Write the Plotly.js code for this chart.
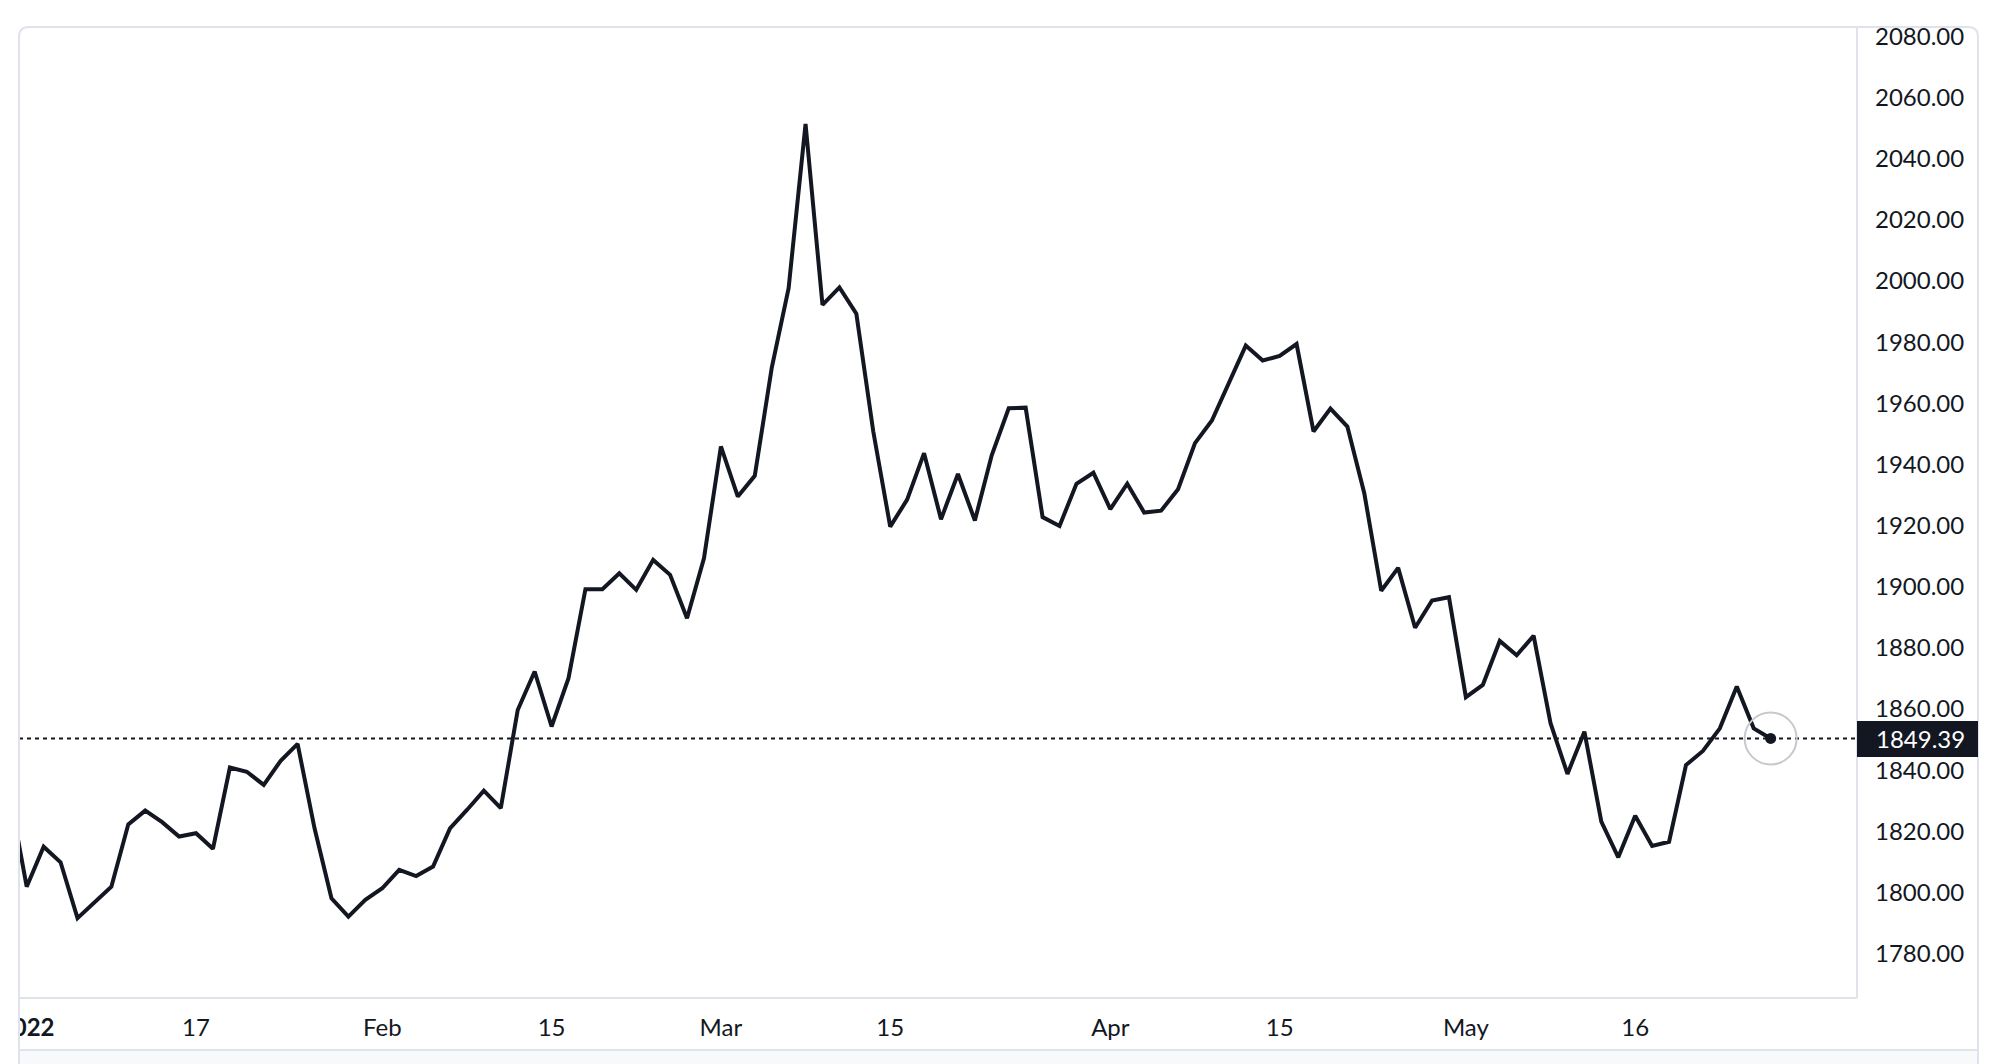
<!DOCTYPE html>
<html>
<head>
<meta charset="utf-8">
<script src="https://cdn.plot.ly/plotly-3.0.1.min.js"></script>
<style>
  html, body { margin: 0; padding: 0; background: #ffffff; }
  #chart { width: 2006px; height: 1064px; }
</style>
</head>
<body>
<div id="chart"></div>
<script>
// ---- data ----
const dates = [
  "2021-12-31",
  "2022-01-03","2022-01-04","2022-01-05","2022-01-06","2022-01-07",
  "2022-01-10","2022-01-11","2022-01-12","2022-01-13","2022-01-14",
  "2022-01-17","2022-01-18","2022-01-19","2022-01-20","2022-01-21",
  "2022-01-24","2022-01-25","2022-01-26","2022-01-27","2022-01-28",
  "2022-01-31",
  "2022-02-01","2022-02-02","2022-02-03","2022-02-04",
  "2022-02-07","2022-02-08","2022-02-09","2022-02-10","2022-02-11",
  "2022-02-14","2022-02-15","2022-02-16","2022-02-17","2022-02-18",
  "2022-02-21","2022-02-22","2022-02-23","2022-02-24","2022-02-25",
  "2022-02-28",
  "2022-03-01","2022-03-02","2022-03-03","2022-03-04",
  "2022-03-07","2022-03-08","2022-03-09","2022-03-10","2022-03-11",
  "2022-03-14","2022-03-15","2022-03-16","2022-03-17","2022-03-18",
  "2022-03-21","2022-03-22","2022-03-23","2022-03-24","2022-03-25",
  "2022-03-28","2022-03-29","2022-03-30","2022-03-31",
  "2022-04-01",
  "2022-04-04","2022-04-05","2022-04-06","2022-04-07","2022-04-08",
  "2022-04-11","2022-04-12","2022-04-13","2022-04-14","2022-04-15",
  "2022-04-18","2022-04-19","2022-04-20","2022-04-21","2022-04-22",
  "2022-04-25","2022-04-26","2022-04-27","2022-04-28","2022-04-29",
  "2022-05-02","2022-05-03","2022-05-04","2022-05-05","2022-05-06",
  "2022-05-09","2022-05-10","2022-05-11","2022-05-12","2022-05-13",
  "2022-05-16","2022-05-17","2022-05-18","2022-05-19","2022-05-20",
  "2022-05-23","2022-05-24","2022-05-25","2022-05-26"
];
const closes = [
  1831.0,
  1800.9, 1814.0, 1808.9, 1790.6, 1795.8,
  1800.9, 1821.3, 1825.8, 1822.0, 1817.3,
  1818.4, 1813.3, 1839.9, 1838.5, 1834.2,
  1842.1, 1847.6, 1820.0, 1797.1, 1791.1,
  1796.6,
  1800.4, 1806.4, 1804.4, 1807.5,
  1820.0, 1826.0, 1832.3, 1826.6, 1858.7,
  1871.3, 1853.3, 1869.1, 1898.2, 1898.2,
  1903.4, 1898.0, 1907.8, 1902.9, 1888.7,
  1908.3,
  1944.9, 1928.5, 1935.3, 1970.5,
  1996.7, 2050.4, 1991.2, 1996.9, 1988.3,
  1949.8, 1918.7, 1927.5, 1942.7, 1921.1,
  1935.9, 1920.7, 1942.1, 1957.4, 1957.6,
  1921.8, 1918.9, 1932.7, 1936.3,
  1924.4,
  1932.7, 1923.3, 1923.9, 1930.9, 1946.0,
  1953.4, 1965.6, 1977.9, 1973.0, 1974.5,
  1978.4, 1949.8, 1957.3, 1951.4, 1929.6,
  1897.7, 1905.2, 1885.6, 1894.5, 1895.6,
  1862.9, 1866.9, 1881.3, 1876.6, 1883.0,
  1854.4, 1837.8, 1851.6, 1822.2, 1810.5,
  1824.1, 1814.2, 1815.6, 1840.7, 1845.3,
  1852.7, 1866.4, 1852.7, 1849.39
];
const xTickVals = ["2022-01-03","2022-01-17","2022-02-01","2022-02-15","2022-03-01",
                   "2022-03-15","2022-04-01","2022-04-15","2022-05-02","2022-05-16"];
const xTickText = ["<b>2022</b>","17","Feb","15","Mar","15","Apr","15","May","16"];
const yTickVals = [1780,1800,1820,1840,1860,1880,1900,1920,1940,1960,1980,2000,2020,2040,2060,2080];

// ---- layout helpers (pixel -> paper) ----
const PW = 2006, PH = 1064;
const L = 19, R = 1857, T = 27, B = 998;
const px = x => (x - L) / (R - L);
const py = y => (B - y) / (B - T);
const INK = "#131722";
const BORDER = "#e0e3eb";
const FONT = "Lato, 'Open Sans', sans-serif";

const lastDate = dates[dates.length - 1];
const lastVal = closes[closes.length - 1];

const traces = [
  {
    type: "scatter", mode: "lines",
    x: dates, y: closes,
    line: { color: INK, width: 4 },
    hoverinfo: "skip"
  },
  {
    type: "scatter", mode: "markers",
    x: [lastDate], y: [lastVal],
    marker: { size: 52, color: "rgba(0,0,0,0)", line: { color: "#c8c9cc", width: 2 } },
    hoverinfo: "skip"
  },
  {
    type: "scatter", mode: "markers",
    x: [lastDate], y: [lastVal],
    marker: { size: 11, color: INK },
    hoverinfo: "skip"
  }
];

const r = 10;
const borderPath =
  "M " + px(L) + "," + py(PH + 2) +
  " L " + px(L) + "," + py(T + r) +
  " Q " + px(L) + "," + py(T) + " " + px(L + r) + "," + py(T) +
  " L " + px(1978 - r) + "," + py(T) +
  " Q " + px(1978) + "," + py(T) + " " + px(1978) + "," + py(T + r) +
  " L " + px(1978) + "," + py(PH + 2);

const layout = {
  width: PW, height: PH,
  paper_bgcolor: "#ffffff", plot_bgcolor: "#ffffff",
  margin: { l: L, r: PW - R, t: T, b: PH - B, pad: 0 },
  showlegend: false,
  hovermode: false,
  font: { family: FONT, color: INK, size: 24 },
  xaxis: {
    type: "category",
    categoryorder: "trace",
    range: [0.545, 109.1],
    tickmode: "array",
    tickvals: xTickVals,
    ticktext: xTickText,
    ticks: "",
    ticklabelstandoff: 13,
    showgrid: false, zeroline: false, showline: false,
    tickfont: { family: FONT, size: 24, color: INK },
    fixedrange: true
  },
  yaxis: {
    side: "right",
    range: [1764.5, 2082.1],
    tickmode: "array",
    tickvals: yTickVals,
    tickformat: ".2f",
    ticks: "",
    ticklabelstandoff: 17,
    ticklabelshift: 3,
    showgrid: false, zeroline: false, showline: false,
    tickfont: { family: FONT, size: 24, color: INK },
    fixedrange: true
  },
  shapes: [
    // dotted last-price line
    { type: "line", xref: "paper", yref: "y", x0: 0, x1: 1, y0: lastVal, y1: lastVal,
      line: { color: INK, width: 2, dash: "4px,4px" }, layer: "below" },
    // clip strip on the left
    { type: "rect", xref: "paper", yref: "paper", x0: px(-5), x1: px(L), y0: py(PH + 5), y1: py(-5),
      fillcolor: "#ffffff", line: { width: 0 }, layer: "above" },
    // bottom gray band
    { type: "rect", xref: "paper", yref: "paper", x0: px(L), x1: px(1978), y0: py(PH + 5), y1: py(1050),
      fillcolor: "#f8f9fb", line: { width: 0 }, layer: "above" },
    // outer rounded border
    { type: "path", xref: "paper", yref: "paper", path: borderPath,
      line: { color: BORDER, width: 2 }, layer: "above" },
    // plot right border
    { type: "line", xref: "paper", yref: "paper", x0: 1, x1: 1, y0: 0, y1: 1,
      line: { color: BORDER, width: 2 }, layer: "above" },
    // plot bottom border
    { type: "line", xref: "paper", yref: "paper", x0: 0, x1: 1, y0: 0, y1: 0,
      line: { color: BORDER, width: 2 }, layer: "above" },
    // time-axis bottom separator
    { type: "line", xref: "paper", yref: "paper", x0: px(L), x1: px(1978), y0: py(1050), y1: py(1050),
      line: { color: BORDER, width: 2 }, layer: "above" },
    // last price box
    { type: "rect", xref: "paper", yref: "paper", x0: 1, x1: px(1978), y0: py(757), y1: py(721),
      fillcolor: INK, line: { width: 0 }, layer: "above" }
  ],
  annotations: [
    { xref: "paper", yref: "y", x: px(1874), y: lastVal, xanchor: "left", yanchor: "middle",
      text: lastVal.toFixed(2), showarrow: false,
      font: { family: FONT, size: 24, color: "#ffffff" } }
  ]
};

Plotly.newPlot("chart", traces, layout, { staticPlot: true, displayModeBar: false });
</script>
</body>
</html>
